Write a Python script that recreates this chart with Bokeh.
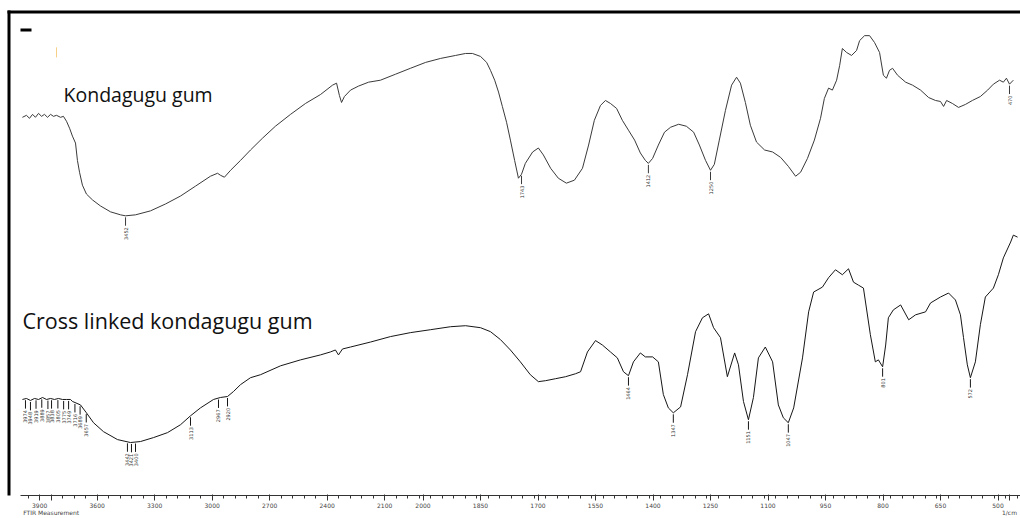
import numpy as np
from bokeh.plotting import figure
from bokeh.models import Range1d, FixedTicker, Label
from bokeh.embed import file_html
from bokeh.resources import INLINE
from bokeh.core.properties import value

# ---------------- data (wavenumber in 1/cm, transmittance in %) ----------------
kg_wn = [3990, 3969, 3953, 3937, 3922, 3906, 3890, 3875, 3859, 3843, 3828, 3812, 3791, 3776,
         3760, 3744, 3729, 3713, 3703, 3692, 3677, 3656, 3624, 3583, 3530, 3478, 3452, 3400,
         3322, 3243, 3165, 3087, 3009, 2972, 2957, 2936, 2904, 2852, 2800, 2737, 2670, 2591,
         2513, 2435, 2372, 2351, 2336, 2325, 2310, 2278, 2237, 2184, 2122, 2072, 2033, 1993,
         1954, 1915, 1889, 1871, 1850, 1834, 1824, 1813, 1803, 1793, 1782, 1772, 1761, 1751,
         1743, 1733, 1714, 1699, 1686, 1667, 1647, 1626, 1605, 1584, 1568, 1553, 1537, 1524,
         1511, 1495, 1480, 1464, 1448, 1433, 1420, 1412, 1401, 1386, 1370, 1354, 1333, 1313,
         1294, 1279, 1263, 1250, 1240, 1227, 1211, 1195, 1182, 1172, 1159, 1146, 1130, 1109,
         1088, 1067, 1047, 1028, 1015, 997, 979, 963, 953, 942, 932, 921, 913, 906, 895, 882,
         869, 861, 848, 835, 822, 809, 799, 791, 783, 775, 762, 741, 723, 702, 681, 663, 650,
         642, 634, 619, 603, 585, 567, 546, 527, 512, 496, 486, 478, 470, 460]
kg_t = [76.4, 76.8, 76.2, 77.0, 76.4, 77.2, 76.6, 77.0, 76.4, 77.0, 76.6, 76.8, 76.4, 76.6,
        75.6, 74.2, 72.6, 71.2, 67.7, 65.3, 62.7, 60.9, 59.7, 58.5, 57.3, 56.7, 56.5, 56.7,
        57.5, 58.9, 60.5, 62.5, 64.5, 65.1, 64.7, 64.3, 65.7, 67.7, 69.8, 72.2, 74.6, 77.0,
        79.2, 81.0, 82.9, 83.3, 80.8, 79.4, 80.6, 81.9, 82.7, 83.5, 83.9, 85.1, 86.3, 87.5,
        88.3, 88.9, 89.3, 89.3, 88.7, 87.5, 85.9, 83.9, 81.5, 78.6, 75.4, 71.8, 67.7, 64.1,
        64.9, 67.1, 69.4, 70.2, 68.8, 66.1, 64.1, 63.1, 63.7, 66.1, 70.8, 75.8, 78.8, 79.8,
        79.2, 78.2, 75.8, 73.8, 71.8, 69.2, 67.7, 67.1, 68.1, 70.8, 73.4, 74.4, 75.0, 74.6,
        73.4, 70.8, 67.7, 65.7, 66.9, 71.8, 77.8, 82.9, 84.5, 83.3, 79.4, 74.8, 71.4, 69.8,
        69.4, 68.3, 66.5, 64.5, 65.3, 68.1, 71.8, 76.2, 80.2, 82.3, 81.9, 83.9, 86.9, 90.3,
        89.5, 88.9, 89.9, 91.9, 92.9, 92.9, 91.5, 89.5, 84.9, 84.3, 85.9, 86.3, 84.9, 83.5,
        82.9, 81.9, 80.4, 79.8, 79.6, 78.6, 79.8, 79.2, 78.4, 79.0, 79.8, 80.6, 81.9, 83.1,
        83.9, 83.5, 84.3, 83.1, 83.9]

cl_wn = [3990, 3969, 3948, 3927, 3906, 3885, 3864, 3843, 3823, 3802, 3781, 3760, 3739, 3729,
         3687, 3656, 3619, 3567, 3494, 3426, 3374, 3306, 3233, 3165, 3113, 3061, 2993, 2957,
         2920, 2889, 2852, 2800, 2748, 2643, 2539, 2435, 2383, 2357, 2341, 2320, 2278, 2174,
         2085, 2033, 1980, 1928, 1889, 1850, 1824, 1798, 1772, 1746, 1720, 1699, 1680, 1654,
         1628, 1602, 1589, 1571, 1550, 1532, 1511, 1493, 1477, 1464, 1451, 1433, 1420, 1401,
         1386, 1373, 1360, 1347, 1328, 1310, 1289, 1271, 1255, 1242, 1224, 1206, 1187, 1177,
         1164, 1151, 1138, 1125, 1107, 1088, 1073, 1060, 1047, 1033, 1010, 994, 981, 958, 942,
         924, 906, 890, 877, 864, 851, 833, 820, 812, 801, 793, 786, 773, 754, 733, 715, 689,
         676, 650, 629, 611, 598, 590, 580, 572, 559, 546, 533, 512, 499, 486, 467, 460, 449]
cl_t = [19.4, 19.6, 19.2, 19.6, 19.4, 19.8, 19.4, 19.6, 19.4, 19.6, 19.4, 19.4, 19.4, 19.0,
        18.3, 16.7, 14.7, 12.9, 11.3, 10.7, 10.9, 11.7, 12.7, 14.3, 16.1, 17.7, 19.4, 19.8,
        20.0, 21.0, 22.4, 23.8, 24.4, 26.2, 27.4, 28.4, 29.0, 29.4, 28.4, 29.6, 30.0, 31.0,
        32.1, 32.9, 33.5, 34.1, 34.3, 33.9, 33.1, 31.5, 29.4, 27.0, 24.4, 23.0, 23.2, 23.6,
        24.0, 24.6, 25.0, 29.0, 31.3, 30.4, 29.0, 27.8, 25.0, 24.2, 27.0, 28.8, 28.0, 28.0,
        27.0, 20.4, 17.7, 16.7, 17.9, 24.4, 33.1, 35.9, 36.7, 33.9, 31.9, 24.0, 28.8, 26.4,
        19.0, 15.3, 19.8, 27.8, 30.0, 27.0, 18.3, 15.7, 14.7, 17.7, 27.8, 37.1, 41.1, 42.1, 44.0,
        45.6, 44.6, 45.8, 43.1, 42.5, 41.9, 32.5, 27.0, 27.4, 26.0, 30.4, 35.9, 37.5, 38.5, 35.5,
        36.5, 37.1, 38.9, 40.1, 40.9, 39.5, 36.5, 31.9, 26.4, 23.8, 27.0, 34.5, 40.1, 41.9, 44.6,
        48.0, 51.2, 52.6, 52.2]

kg_peaks = [3452, 1743, 1412, 1250, 470]
cl_peaks = [3974, 3948, 3919, 3889, 3857, 3838, 3805, 3775, 3749, 3716, 3689, 3657,
            3442, 3421, 3400, 3113, 2967, 2920, 1464, 1347, 1151, 1047, 801, 572]

ticks_high = [3900, 3600, 3300, 3000, 2700, 2400, 2100]
ticks_low = [2000, 1850, 1700, 1550, 1400, 1250, 1100, 950, 800, 650, 500]
minor_high = list(range(3960, 2099, -60))
minor_low = list(range(2070, 439, -30))
caption_left = "FTIR Measurement"
unit_label = "1/cm"


# Shimadzu style split wavenumber scale: 300 1/cm per division above 2100, 150 below
def wn_to_u(w):
    w = np.asarray(w, dtype=float)
    return np.where(w >= 2100, (4000.0 - w) / 300.0, 19.0 / 3.0 + (2100.0 - w) / 150.0)


# decoration helpers (page pixel -> plot coordinates)
def sx(px):
    return (px - 20.0) / 57.5


def sy(py):
    return (496.0 - py) / 4.96


p = figure(width=1020, height=518, output_backend="svg", toolbar_location=None,
           x_range=Range1d(sx(0), sx(1020)), y_range=Range1d(0, 100),
           min_border_left=0, min_border_right=0, min_border_top=0, min_border_bottom=22,
           y_axis_location=None)
p.outline_line_color = None
p.xgrid.visible = False
p.ygrid.visible = False
p.background_fill_color = "white"
p.border_fill_color = "white"

# frame decoration
p.segment(x0=[sx(8.5), sx(7)], y0=[sy(10), sy(11.5)], x1=[sx(8.5), sx(1020)],
          y1=[sy(500), sy(11.5)], line_color="black", line_width=3)
p.segment(x0=[sx(20)], y0=[sy(29.5)], x1=[sx(31)], y1=[sy(29.5)], line_color="black", line_width=3)
p.segment(x0=[sx(56)], y0=[sy(47)], x1=[sx(56)], y1=[sy(57)], line_color="#f7cf86", line_width=1)

# spectra
p.line(wn_to_u(kg_wn), kg_t, line_color="#3a3a3a", line_width=1)
p.line(wn_to_u(cl_wn), cl_t, line_color="#161616", line_width=1)

# peak picks
for wn_arr, t_arr, peaks, col in ((kg_wn, kg_t, kg_peaks, "#3a3a3a"), (cl_wn, cl_t, cl_peaks, "#161616")):
    wn_r = np.array(wn_arr[::-1], dtype=float)
    t_r = np.array(t_arr[::-1], dtype=float)
    pk = np.array(peaks, dtype=float)
    tp = np.interp(pk, wn_r, t_r)
    xu = wn_to_u(pk)
    p.segment(x0=xu, y0=tp - 0.3, x1=xu, y1=tp - 2.0, line_color=col, line_width=1)
    p.text(x=xu, y=tp - 2.3, text=[str(int(v)) for v in peaks], angle=np.pi / 2,
           text_align="right", text_baseline="middle", text_font=value("DejaVu Sans"),
           text_font_size="5px", text_color="#333333")

# x axis (caption and unit are carried as second lines of two tick labels)
ax = p.xaxis[0]
major_wn = ticks_high + ticks_low
major = [float(v) for v in wn_to_u(major_wn)]
overrides = {m: str(t) for m, t in zip(major, major_wn)}
cap_u = float(wn_to_u(3840))
unit_u = float(wn_to_u(470))
overrides[cap_u] = "\n" + caption_left
overrides[unit_u] = "\n" + unit_label
minor = [float(v) for v in wn_to_u(minor_high + minor_low)]
ax.ticker = FixedTicker(ticks=sorted(major + [cap_u, unit_u]), minor_ticks=minor)
ax.major_label_overrides = overrides
ax.bounds = (0.0, sx(1020))
ax.axis_line_color = "#333333"
ax.major_tick_line_color = "#333333"
ax.minor_tick_line_color = "#333333"
ax.major_tick_out = 5
ax.major_tick_in = 1
ax.minor_tick_out = 3
ax.minor_tick_in = 0
ax.major_label_standoff = 1
ax.major_label_text_font = "DejaVu Sans"
ax.major_label_text_font_size = "6px"
ax.major_label_text_line_height = 1.0
ax.major_label_text_color = "#444444"

# texts
p.add_layout(Label(x=sx(63), y=sy(94), text="Kondagugu gum", text_font="Open Sans",
                   text_font_size="19.5px", text_color="#111111", text_baseline="middle"))
p.add_layout(Label(x=sx(22), y=sy(321), text="Cross linked kondagugu gum", text_font="Open Sans",
                   text_font_size="21.5px", text_color="#111111", text_baseline="middle"))

open("out.html", "w").write(file_html(p, INLINE))
